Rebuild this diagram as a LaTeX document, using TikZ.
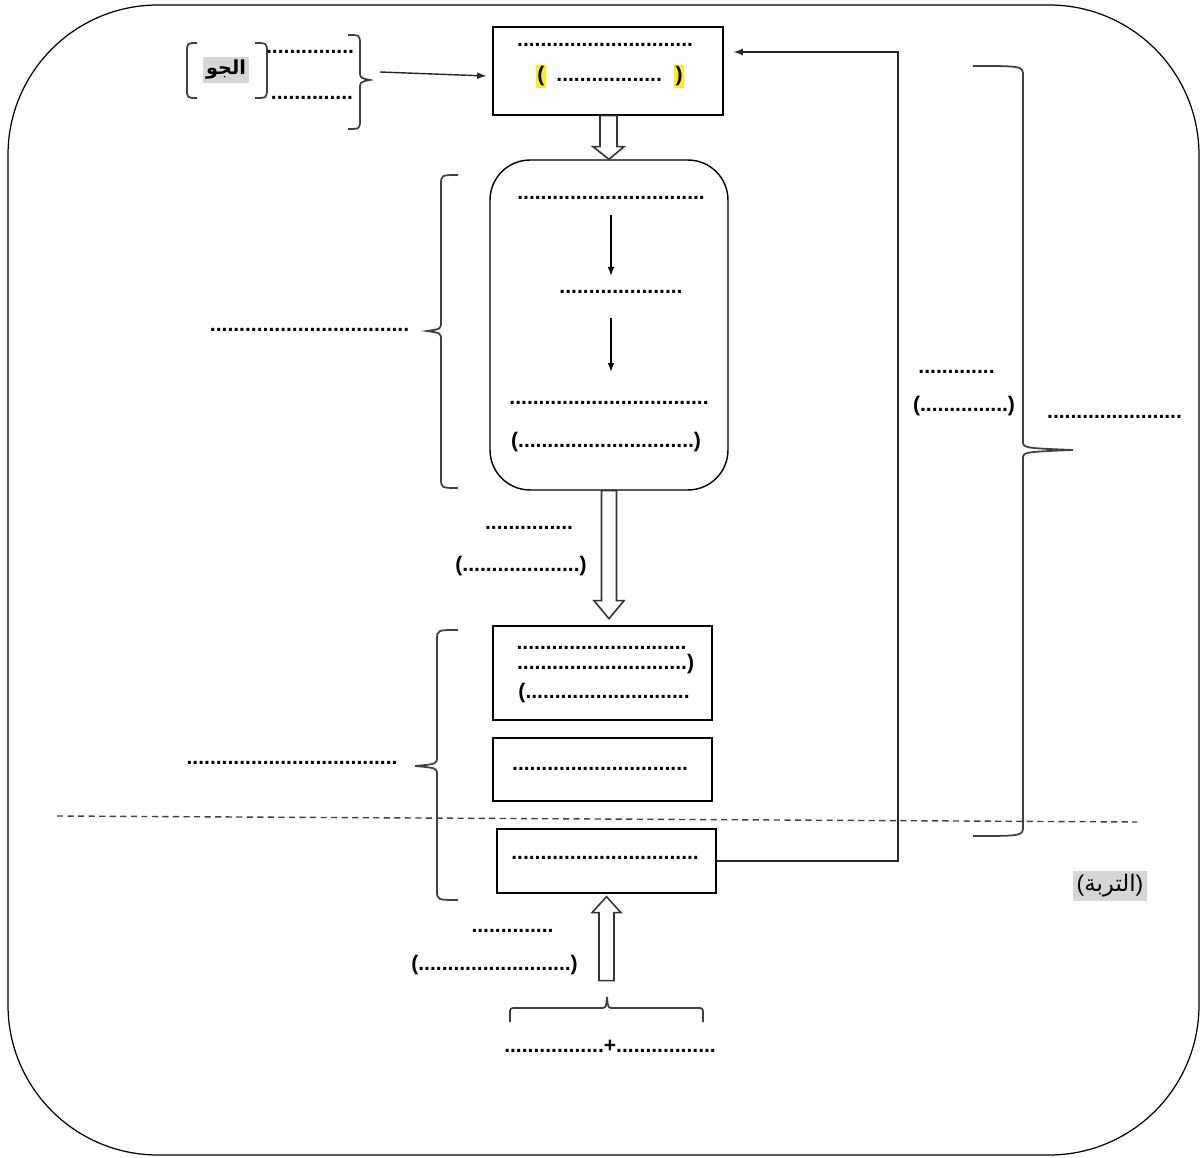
\documentclass[tikz,border=0pt]{standalone}
\usepackage{fontspec}
\setmainfont{Liberation Sans}
\newfontfamily\arabicfont[Script=Arabic]{DejaVu Sans}
\TeXXeTstate=1
\usetikzlibrary{calc}
\definecolor{hlgray}{gray}{0.84}
\newcommand{\hly}[1]{{\fboxsep=0.8pt\colorbox{yellow}{#1}}}
\newcommand{\hlg}[1]{{\fboxsep=2pt\colorbox{hlgray}{#1}}}
% vertical bracket: end x, bar x, top y, tip y, bottom y, tip x
\newcommand{\vbrk}[6]{%
  \draw[brk] (#1,#3) .. controls (#2,#3) .. (#2,#3+10) -- (#2,#4-9)
    .. controls (#2,#4-2) .. (#6,#4) .. controls (#2,#4+2) .. (#2,#4+9)
    -- (#2,#5-10) .. controls (#2,#5) .. (#1,#5);}

\begin{document}
\begin{tikzpicture}[x=0.02cm, y=-0.02cm, >=latex,
  box/.style={draw, line width=0.8pt},
  dots/.style={anchor=base, inner sep=0pt, font=\bfseries\fontsize{12}{14}\selectfont},
  brk/.style={draw=black!75, line width=1pt},
  hollow/.style={draw=black!80, line width=0.9pt, fill=white},
  conn/.style={->, line width=0.8pt, draw=black!85}]
\useasboundingbox (0,0) rectangle (1201,1158);
% frame
\draw[line width=0.7pt, rounded corners=3cm] (8,5) rectangle (1199,1155);

% boxes
\node[box, minimum width=4.6cm, minimum height=1.76cm] (top) at (608,71) {};
\node[box, rounded corners=0.8cm, minimum width=4.76cm, minimum height=6.6cm] (cyc) at (609,325) {};
\node[box, minimum width=4.38cm, minimum height=1.88cm] (b1) at (602.5,673) {};
\node[box, minimum width=4.38cm, minimum height=1.26cm] (b2) at (602.5,769.5) {};
\node[box, minimum width=4.38cm, minimum height=1.28cm] (b3) at (606.5,861) {};

% texts in boxes
\node[dots] (t1) at (605,47) {..............................};
\node[dots] (t2) at (610,82) {\hly{(}\hspace{6pt}..................\hspace{7pt}\hly{)}};
\node[dots] (r1) at (611,200) {................................};
\node[dots] (r2) at (621,294) {.....................};
\node[dots] (r3) at (609,405) {..................................};
\node[dots] (r4) at (606,448) {(..............................)};
\node[dots] (b1a) at (601.5,650) {.............................};
\node[dots] (b1b) at (605.5,670) {.............................)};
\node[dots] (b1c) at (604,699) {(............................};
\node[dots] (b2t) at (600,771) {..............................};
\node[dots] (b3t) at (605,859) {................................};

% texts outside
\node[dots] (a1) at (310,54) {...............};
\node[dots] (a2) at (312,100) {..............};
\node[inner sep=0pt] (air) at (226,70) {\hlg{\arabicfont\bfseries\fontsize{11}{13}\selectfont\beginR الجو\endR}};
\node[dots] (lt1) at (309.5,332) {..................................};
\node[dots] (m1) at (529,530) {...............};
\node[dots] (m2) at (521,572) {(....................)};
\node[dots] (lt2) at (292,765) {....................................};
\node[dots] (rt1) at (956.5,374) {.............};
\node[dots] (rt2) at (964,412) {(...............)};
\node[dots] (fr) at (1114.5,419) {.......................};
\node[inner sep=0pt] (soil) at (1110,886) {\hlg{\fontsize{13}{15}\selectfont(\arabicfont\beginR التربة\endR\rmfamily)}};
\node[dots] (bt1) at (512.5,932) {..............};
\node[dots] (bt2) at (494.5,970) {(..........................)};
\node[dots] (bot) at (610,1052) {.................+.................};

% brackets
\draw[brk] (197,43) .. controls (187,43) .. (187,53) -- (187,88) .. controls (187,98) .. (197,98);
\draw[brk] (255,43) .. controls (267,43) .. (267,53) -- (267,88) .. controls (267,98) .. (255,98);
\vbrk{348}{360}{35}{80}{129}{370}
\vbrk{458}{441}{175}{331}{488}{427}
\vbrk{458}{437}{630}{766}{900}{415}
\vbrk{973}{1023}{66}{450}{836}{1073}
\draw[brk] (510,1022) -- (510,1014) .. controls (510,1008) .. (517,1008) -- (601,1008)
  .. controls (606,1008) .. (607,997) .. controls (608,1008) .. (613,1008) -- (696,1008)
  .. controls (703,1008) .. (703,1014) -- (703,1022);

% arrows
\coordinate (airtip) at (380,72);
\draw[conn] (airtip) -- ($(top.west)+(-6,5)$);
\draw[->, line width=0.7pt, shorten <=8.5pt, shorten >=8.5pt] (r1.south) -- (r1.south |- r2.north);
\draw[->, line width=0.7pt, shorten <=13.5pt, shorten >=17pt] (r2.south -| r1.south) -- (r1.south |- r3.north);
\coordinate (bend) at (898,52);
\draw[conn] (b3.east) -| (bend) -- ($(top.east)+(10,-19)$);

% hollow arrows
\draw[hollow] ($(top.south)+(-8,0)$) -- ++(0,31) -- ++(-7,0) -- (cyc.north)
  -- ($(top.south)+(16,31)$) -- ++(-7,0) -- ++(0,-31) -- cycle;
\draw[hollow] ($(cyc.south)+(-7.5,0)$) -- ++(0,110) -- ++(-7.5,0) -- ($(cyc.south)+(0,128)$)
  -- ($(cyc.south)+(15,110)$) -- ++(-7.5,0) -- ++(0,-110) -- cycle;
\draw[hollow] ($(b3.south)+(0,3)$) -- ++(-14.5,16) -- ++(7,0) -- ++(0,68) -- ++(15,0)
  -- ++(0,-68) -- ++(7,0) -- cycle;

% soil line
\draw[line width=0.8pt, black!75, dash pattern=on 3.5pt off 2.5pt] (57,816) -- (1137,822);
\end{tikzpicture}
\end{document}
